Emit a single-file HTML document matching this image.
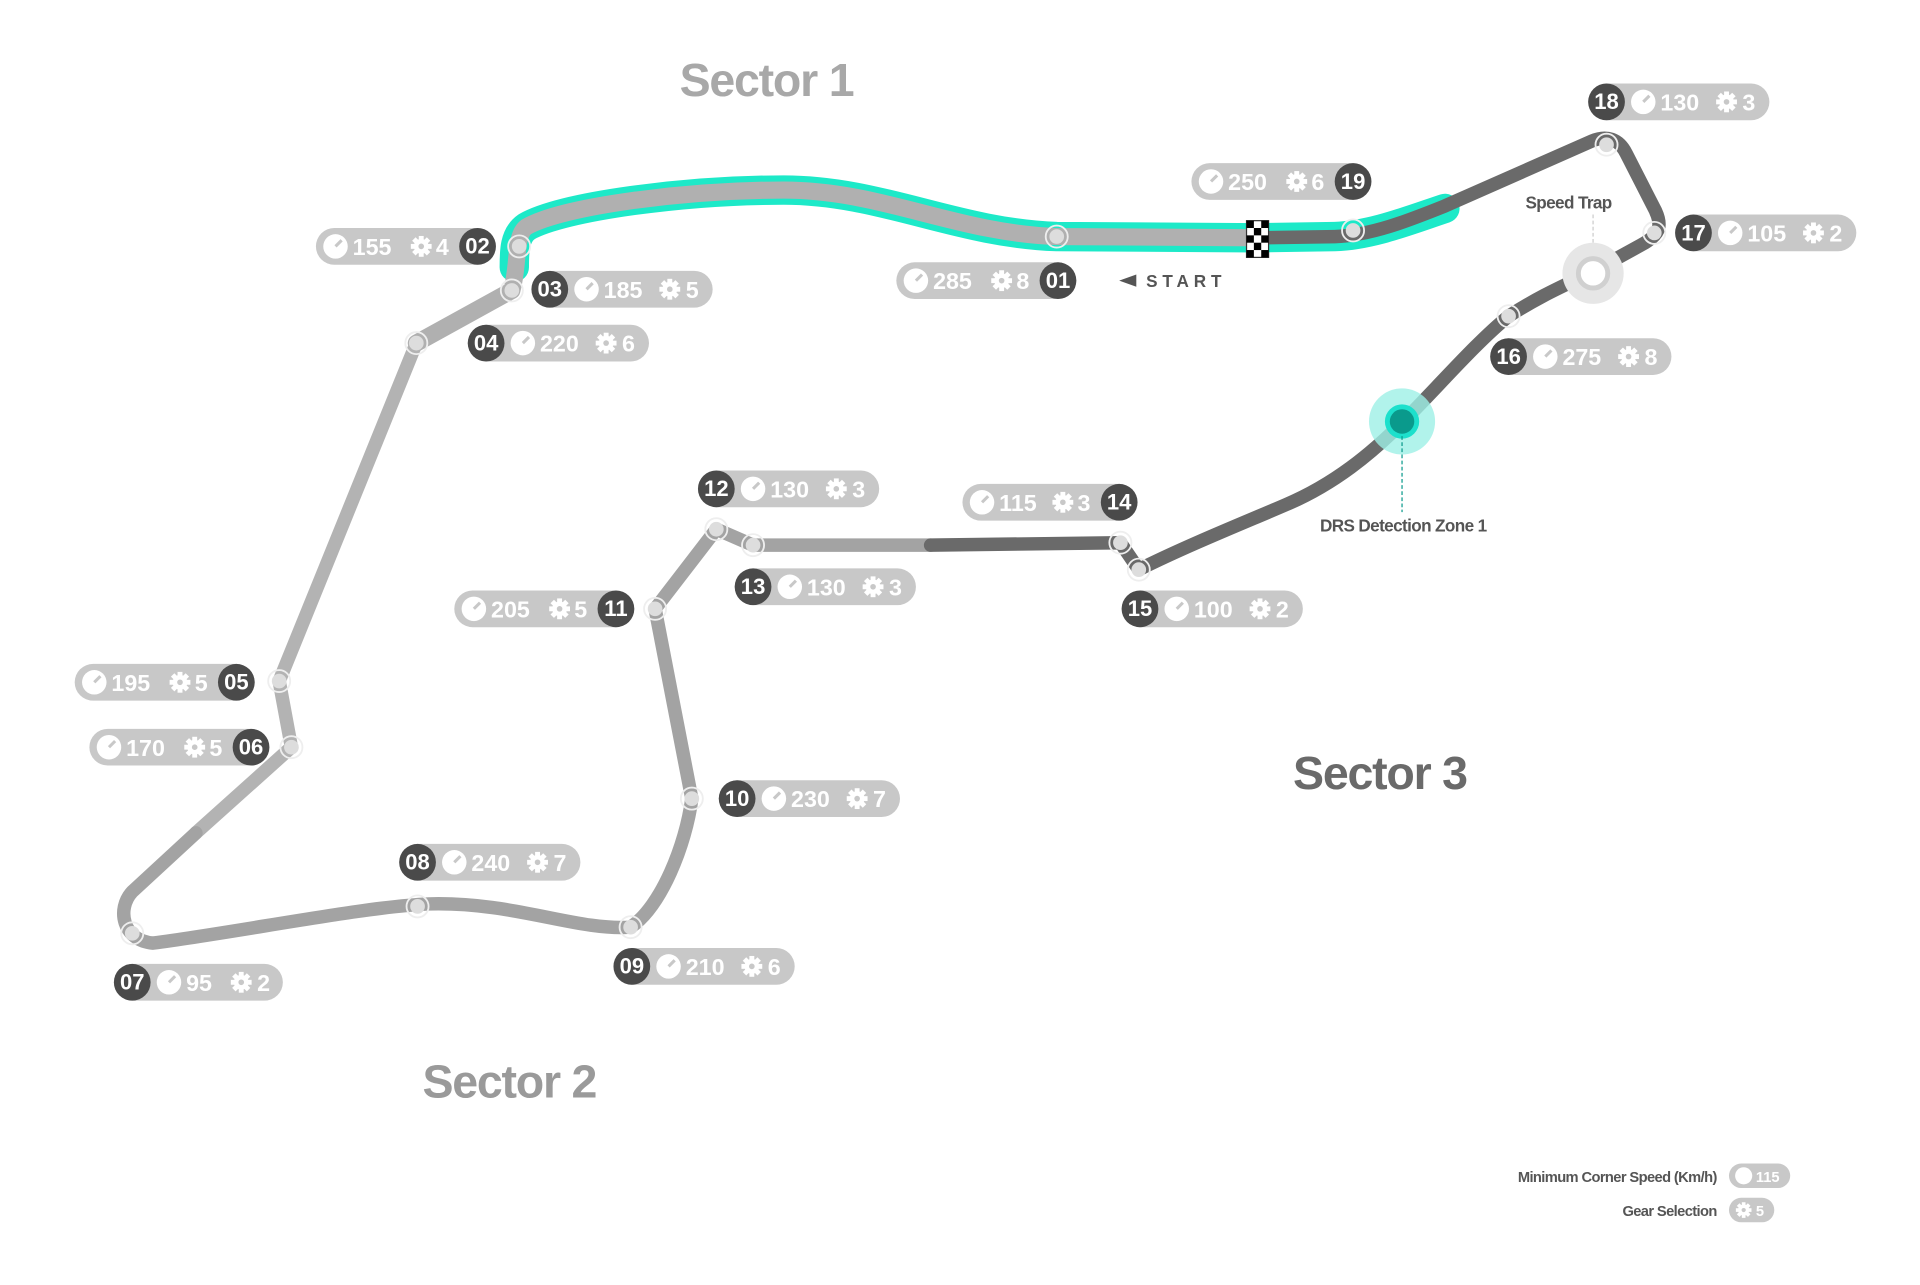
<!DOCTYPE html>
<html><head><meta charset="utf-8"><style>
html,body{margin:0;padding:0;background:#fff;}
svg{display:block;}
text{font-family:"Liberation Sans","DejaVu Sans",sans-serif;font-weight:bold;}
.w{fill:#fff;font-size:19px;}
.n{fill:#fff;font-size:18px;text-anchor:middle;}
</style></head><body>
<svg width="1920" height="1285" viewBox="0 0 1568 1049" xmlns="http://www.w3.org/2000/svg">
<defs>
<g id="sp"><circle r="10" fill="#fff"/><line x1="0" y1="0" x2="5" y2="-5" stroke="#c8c8c8" stroke-width="2.5"/></g>
<g id="mk"><circle r="9" fill="none" stroke="#eee" stroke-width="1.5"/><circle r="6" fill="#ddd"/></g>
<g id="gr"><circle r="6" fill="#fff"/>
<g fill="#fff"><rect x="-2" y="-8.5" width="4" height="17"/><rect x="-2" y="-8.5" width="4" height="17" transform="rotate(45)"/><rect x="-2" y="-8.5" width="4" height="17" transform="rotate(90)"/><rect x="-2" y="-8.5" width="4" height="17" transform="rotate(135)"/></g>
<circle r="2.3" fill="#c8c8c8"/></g>
</defs>
<text x="555" y="78" font-size="38" fill="#a8a8a8" letter-spacing="-1">Sector 1</text>
<text x="345" y="896" font-size="38" fill="#9a9a9a" letter-spacing="-1">Sector 2</text>
<text x="1056" y="644" font-size="38" fill="#6a6a6a" letter-spacing="-1">Sector 3</text>

<path d="M1180,170 C1150,180 1120,192 1090,193 L1027,194 L863,193 C780,190 720,155 640,155 C560,155 460,168 430,185 C420,192 420,205 420,218" fill="none" stroke="#1de9c8" stroke-width="24" stroke-linecap="round" stroke-linejoin="round"/>
<path d="M1027,194 L863,193 C780,190 720,155 640,155 C560,155 460,168 430,185 C420,192 424,215 418,237 L340,280" fill="none" stroke="#b0b0b0" stroke-width="14" stroke-linecap="round" stroke-linejoin="round"/>
<path d="M340,280 L228,556 L238,610 L160,680" fill="none" stroke="#b3b3b3" stroke-width="11" stroke-linecap="round" stroke-linejoin="round"/>
<path d="M160,680 L108,728 C95,742 100,768 125,770 C200,760 300,740 350,738 C420,736 470,760 515,757 C540,740 560,690 565,652 L535,497 L585,432 L615,445 L760,445" fill="none" stroke="#a3a3a3" stroke-width="11" stroke-linecap="round" stroke-linejoin="round"/>
<path d="M760,445 L915,443 L930,465 C970,445 1020,425 1050,412 C1090,395 1120,370 1145,345 C1175,315 1205,280 1232,258 C1260,240 1280,232 1300,222 L1340,200 C1355,192 1358,185 1352,172 L1328,125 C1322,113 1312,110 1300,115 L1180,168 C1150,180 1120,192 1090,193 L1027,194" fill="none" stroke="#6a6a6a" stroke-width="11" stroke-linecap="round" stroke-linejoin="round"/>

<g transform="translate(1018,180)">
<rect width="18" height="30" fill="#fff" stroke="#333" stroke-width="1"/>
<rect x="0" y="0" width="6" height="6"/><rect x="12" y="0" width="6" height="6"/><rect x="6" y="6" width="6" height="6"/>
<rect x="0" y="12" width="6" height="6"/><rect x="12" y="12" width="6" height="6"/><rect x="6" y="18" width="6" height="6"/>
<rect x="0" y="24" width="6" height="6"/><rect x="12" y="24" width="6" height="6"/>
</g>
<polygon points="914,229 928,224 928,234" fill="#555"/>
<text x="936" y="234" font-size="14" fill="#555" letter-spacing="4">START</text>

<line x1="1301" y1="175" x2="1301" y2="210" stroke="#ccc" stroke-dasharray="3,2"/>
<circle cx="1301" cy="223" r="25" fill="#e6e6e6"/>
<circle cx="1301" cy="223" r="12" fill="#fff" stroke="#d0d0d0" stroke-width="4"/>
<text x="1281" y="170" font-size="14" fill="#555" text-anchor="middle" letter-spacing="-0.5">Speed Trap</text>

<circle cx="1145" cy="344" r="27" fill="#9ef0e6" opacity="0.8"/>
<circle cx="1145" cy="344" r="14" fill="#1de0cc"/>
<circle cx="1145" cy="344" r="10" fill="#0a9a8c"/>
<line x1="1145" y1="356" x2="1145" y2="418" stroke="#0a9a8c" stroke-dasharray="3,2"/>
<text x="1146" y="434" font-size="14" fill="#555" text-anchor="middle" letter-spacing="-0.5">DRS Detection Zone 1</text>

<use href="#mk" x="424" y="201"/><use href="#mk" x="418" y="237"/><use href="#mk" x="340" y="280"/>
<use href="#mk" x="863" y="193"/><use href="#mk" x="1105" y="188"/><use href="#mk" x="1312" y="118"/>
<use href="#mk" x="1351" y="190"/><use href="#mk" x="1232" y="258"/><use href="#mk" x="585" y="432"/>
<use href="#mk" x="615" y="445"/><use href="#mk" x="915" y="443"/><use href="#mk" x="930" y="465"/>
<use href="#mk" x="535" y="497"/><use href="#mk" x="228" y="556"/><use href="#mk" x="238" y="610"/>
<use href="#mk" x="565" y="652"/><use href="#mk" x="341" y="740"/><use href="#mk" x="108" y="762"/>
<use href="#mk" x="515" y="757"/>

<g transform="translate(1312,83)"><rect x="-15" y="-15" width="148" height="30" rx="15" fill="#c8c8c8"/><circle r="15" fill="#4a4a4a"/><text class="n" y="6">18</text><use href="#sp" x="30"/><text class="w" x="44" y="7">130</text><use href="#gr" x="98"/><text class="w" x="111" y="7">3</text></g>
<g transform="translate(449,236)"><rect x="-15" y="-15" width="148" height="30" rx="15" fill="#c8c8c8"/><circle r="15" fill="#4a4a4a"/><text class="n" y="6">03</text><use href="#sp" x="30"/><text class="w" x="44" y="7">185</text><use href="#gr" x="98"/><text class="w" x="111" y="7">5</text></g>
<g transform="translate(397,280)"><rect x="-15" y="-15" width="148" height="30" rx="15" fill="#c8c8c8"/><circle r="15" fill="#4a4a4a"/><text class="n" y="6">04</text><use href="#sp" x="30"/><text class="w" x="44" y="7">220</text><use href="#gr" x="98"/><text class="w" x="111" y="7">6</text></g>
<g transform="translate(1383,190)"><rect x="-15" y="-15" width="148" height="30" rx="15" fill="#c8c8c8"/><circle r="15" fill="#4a4a4a"/><text class="n" y="6">17</text><use href="#sp" x="30"/><text class="w" x="44" y="7">105</text><use href="#gr" x="98"/><text class="w" x="111" y="7">2</text></g>
<g transform="translate(1232,291)"><rect x="-15" y="-15" width="148" height="30" rx="15" fill="#c8c8c8"/><circle r="15" fill="#4a4a4a"/><text class="n" y="6">16</text><use href="#sp" x="30"/><text class="w" x="44" y="7">275</text><use href="#gr" x="98"/><text class="w" x="111" y="7">8</text></g>
<g transform="translate(585,399)"><rect x="-15" y="-15" width="148" height="30" rx="15" fill="#c8c8c8"/><circle r="15" fill="#4a4a4a"/><text class="n" y="6">12</text><use href="#sp" x="30"/><text class="w" x="44" y="7">130</text><use href="#gr" x="98"/><text class="w" x="111" y="7">3</text></g>
<g transform="translate(615,479)"><rect x="-15" y="-15" width="148" height="30" rx="15" fill="#c8c8c8"/><circle r="15" fill="#4a4a4a"/><text class="n" y="6">13</text><use href="#sp" x="30"/><text class="w" x="44" y="7">130</text><use href="#gr" x="98"/><text class="w" x="111" y="7">3</text></g>
<g transform="translate(931,497)"><rect x="-15" y="-15" width="148" height="30" rx="15" fill="#c8c8c8"/><circle r="15" fill="#4a4a4a"/><text class="n" y="6">15</text><use href="#sp" x="30"/><text class="w" x="44" y="7">100</text><use href="#gr" x="98"/><text class="w" x="111" y="7">2</text></g>
<g transform="translate(602,652)"><rect x="-15" y="-15" width="148" height="30" rx="15" fill="#c8c8c8"/><circle r="15" fill="#4a4a4a"/><text class="n" y="6">10</text><use href="#sp" x="30"/><text class="w" x="44" y="7">230</text><use href="#gr" x="98"/><text class="w" x="111" y="7">7</text></g>
<g transform="translate(341,704)"><rect x="-15" y="-15" width="148" height="30" rx="15" fill="#c8c8c8"/><circle r="15" fill="#4a4a4a"/><text class="n" y="6">08</text><use href="#sp" x="30"/><text class="w" x="44" y="7">240</text><use href="#gr" x="98"/><text class="w" x="111" y="7">7</text></g>
<g transform="translate(516,789)"><rect x="-15" y="-15" width="148" height="30" rx="15" fill="#c8c8c8"/><circle r="15" fill="#4a4a4a"/><text class="n" y="6">09</text><use href="#sp" x="30"/><text class="w" x="44" y="7">210</text><use href="#gr" x="98"/><text class="w" x="111" y="7">6</text></g>
<g transform="translate(108,802)"><rect x="-15" y="-15" width="138" height="30" rx="15" fill="#c8c8c8"/><circle r="15" fill="#4a4a4a"/><text class="n" y="6">07</text><use href="#sp" x="30"/><text class="w" x="44" y="7">95</text><use href="#gr" x="89"/><text class="w" x="102" y="7">2</text></g>

<g transform="translate(1105,148)"><rect x="-132" y="-15" width="147" height="30" rx="15" fill="#c8c8c8"/><circle r="15" fill="#4a4a4a"/><text class="n" y="6">19</text><use href="#sp" x="-116"/><text class="w" x="-102" y="7">250</text><use href="#gr" x="-46"/><text class="w" x="-34" y="7">6</text></g>
<g transform="translate(390,201)"><rect x="-132" y="-15" width="147" height="30" rx="15" fill="#c8c8c8"/><circle r="15" fill="#4a4a4a"/><text class="n" y="6">02</text><use href="#sp" x="-116"/><text class="w" x="-102" y="7">155</text><use href="#gr" x="-46"/><text class="w" x="-34" y="7">4</text></g>
<g transform="translate(864,229)"><rect x="-132" y="-15" width="147" height="30" rx="15" fill="#c8c8c8"/><circle r="15" fill="#4a4a4a"/><text class="n" y="6">01</text><use href="#sp" x="-116"/><text class="w" x="-102" y="7">285</text><use href="#gr" x="-46"/><text class="w" x="-34" y="7">8</text></g>
<g transform="translate(914,410)"><rect x="-128" y="-15" width="143" height="30" rx="15" fill="#c8c8c8"/><circle r="15" fill="#4a4a4a"/><text class="n" y="6">14</text><use href="#sp" x="-112"/><text class="w" x="-98" y="7">115</text><use href="#gr" x="-46"/><text class="w" x="-34" y="7">3</text></g>
<g transform="translate(503,497)"><rect x="-132" y="-15" width="147" height="30" rx="15" fill="#c8c8c8"/><circle r="15" fill="#4a4a4a"/><text class="n" y="6">11</text><use href="#sp" x="-116"/><text class="w" x="-102" y="7">205</text><use href="#gr" x="-46"/><text class="w" x="-34" y="7">5</text></g>
<g transform="translate(193,557)"><rect x="-132" y="-15" width="147" height="30" rx="15" fill="#c8c8c8"/><circle r="15" fill="#4a4a4a"/><text class="n" y="6">05</text><use href="#sp" x="-116"/><text class="w" x="-102" y="7">195</text><use href="#gr" x="-46"/><text class="w" x="-34" y="7">5</text></g>
<g transform="translate(205,610)"><rect x="-132" y="-15" width="147" height="30" rx="15" fill="#c8c8c8"/><circle r="15" fill="#4a4a4a"/><text class="n" y="6">06</text><use href="#sp" x="-116"/><text class="w" x="-102" y="7">170</text><use href="#gr" x="-46"/><text class="w" x="-34" y="7">5</text></g>

<text x="1402" y="965" font-size="12" fill="#555" text-anchor="end" letter-spacing="-0.5">Minimum Corner Speed (Km/h)</text>
<rect x="1412" y="950" width="50" height="20" rx="10" fill="#c8c8c8"/>
<circle cx="1424" cy="960" r="7" fill="#fff"/>
<text x="1434" y="965" font-size="12" fill="#fff">115</text>
<text x="1402" y="993" font-size="12" fill="#555" text-anchor="end" letter-spacing="-0.5">Gear Selection</text>
<rect x="1412" y="978" width="37" height="20" rx="10" fill="#c8c8c8"/>
<g transform="translate(1424,988) scale(0.75)"><use href="#gr"/></g>
<text x="1434" y="993" font-size="12" fill="#fff">5</text>
</svg>
</body></html>
